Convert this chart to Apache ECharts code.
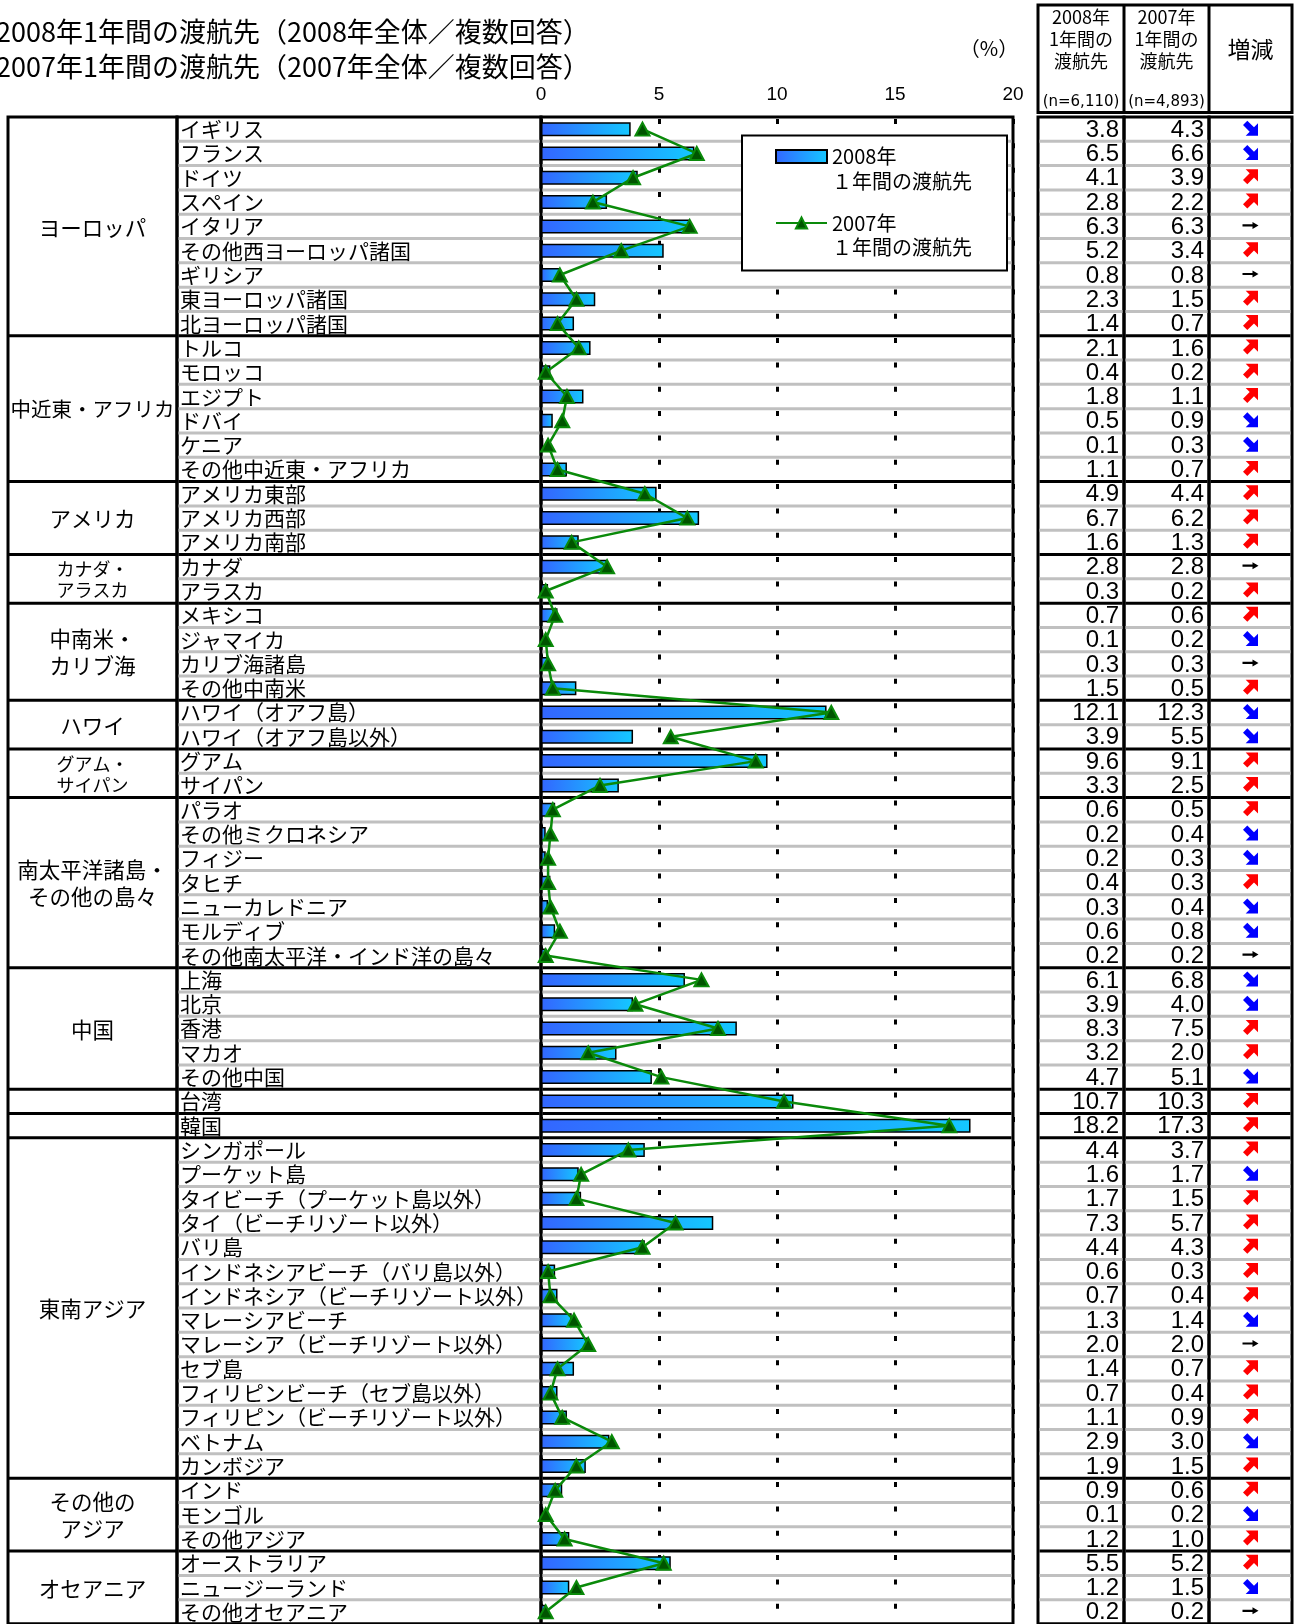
<!DOCTYPE html>
<html><head><meta charset="utf-8">
<script src="https://cdn.jsdelivr.net/npm/echarts@6/dist/echarts.min.js"></script>
<style>html,body{margin:0;padding:0;background:#fff}#c{width:1298px;height:1624px}</style>
</head><body><div id="c"></div>
<script>
const categories = ['イギリス','フランス','ドイツ','スペイン','イタリア','その他西ヨーロッパ諸国','ギリシア','東ヨーロッパ諸国','北ヨーロッパ諸国',
'トルコ','モロッコ','エジプト','ドバイ','ケニア','その他中近東・アフリカ',
'アメリカ東部','アメリカ西部','アメリカ南部',
'カナダ','アラスカ',
'メキシコ','ジャマイカ','カリブ海諸島','その他中南米',
'ハワイ（オアフ島）','ハワイ（オアフ島以外）',
'グアム','サイパン',
'パラオ','その他ミクロネシア','フィジー','タヒチ','ニューカレドニア','モルディブ','その他南太平洋・インド洋の島々',
'上海','北京','香港','マカオ','その他中国',
'台湾','韓国',
'シンガポール','プーケット島','タイビーチ（プーケット島以外）','タイ（ビーチリゾート以外）','バリ島','インドネシアビーチ（バリ島以外）','インドネシア（ビーチリゾート以外）','マレーシアビーチ','マレーシア（ビーチリゾート以外）','セブ島','フィリピンビーチ（セブ島以外）','フィリピン（ビーチリゾート以外）','ベトナム','カンボジア',
'インド','モンゴル','その他アジア',
'オーストラリア','ニュージーランド','その他オセアニア'];

const v2008 = [3.8,6.5,4.1,2.8,6.3,5.2,0.8,2.3,1.4,
2.1,0.4,1.8,0.5,0.1,1.1,
4.9,6.7,1.6,
2.8,0.3,
0.7,0.1,0.3,1.5,
12.1,3.9,
9.6,3.3,
0.6,0.2,0.2,0.4,0.3,0.6,0.2,
6.1,3.9,8.3,3.2,4.7,
10.7,18.2,
4.4,1.6,1.7,7.3,4.4,0.6,0.7,1.3,2.0,1.4,0.7,1.1,2.9,1.9,
0.9,0.1,1.2,
5.5,1.2,0.2];

const v2007 = [4.3,6.6,3.9,2.2,6.3,3.4,0.8,1.5,0.7,
1.6,0.2,1.1,0.9,0.3,0.7,
4.4,6.2,1.3,
2.8,0.2,
0.6,0.2,0.3,0.5,
12.3,5.5,
9.1,2.5,
0.5,0.4,0.3,0.3,0.4,0.8,0.2,
6.8,4.0,7.5,2.0,5.1,
10.3,17.3,
3.7,1.7,1.5,5.7,4.3,0.3,0.4,1.4,2.0,0.7,0.4,0.9,3.0,1.5,
0.6,0.2,1.0,
5.2,1.5,0.2];

const groupNames = ['ヨーロッパ','中近東・アフリカ','アメリカ','カナダ・\nアラスカ','中南米・\nカリブ海','ハワイ','グアム・\nサイパン','南太平洋諸島・\nその他の島々','中国','','','東南アジア','その他の\nアジア','オセアニア'];
const groupSizes = [9,6,3,2,4,2,2,7,5,1,1,14,3,3];
const smallGroups = ['カナダ・\nアラスカ','グアム・\nサイパン'];

const xTicks = {min:0, max:20, interval:5};
const seriesNames = ['2008年\n１年間の渡航先','2007年\n１年間の渡航先'];
const headerA = ['2008年','1年間の','渡航先','(n=6,110)'];
const headerB = ['2007年','1年間の','渡航先','(n=4,893)'];
const headerC = '増減';
const unitLabel = '（%）';
const titleText = '2008年1年間の渡航先（2008年全体／複数回答）\n2007年1年間の渡航先（2007年全体／複数回答）';

// derived
const groupStarts = [];
(function(){ let s=0; groupSizes.forEach(n=>{groupStarts.push(s); s+=n;}); })();
const groupEnds = new Set(groupStarts.map((s,i)=>s+groupSizes[i]-1));
const trend = v2008.map((v,i)=> v>v2007[i]?1:(v<v2007[i]?-1:0));

const JP = '"Noto Sans CJK JP", sans-serif';
const LAT = '"Liberation Sans", Arial, sans-serif';
const NUM = '"Liberation Sans Narrow", "Liberation Sans", Arial, sans-serif';
const TOP = 117, H = 1509;

const gridDefs = [
  {left:541, width:472},
  {left:177, width:364},
  {left:8, width:169},
  {left:1038, width:86},
  {left:1124, width:85},
  {left:1209, width:83}
];
const grid = gridDefs.map(g=>({left:g.left, width:g.width, top:TOP, height:H, show:true, borderColor:'#000', borderWidth:3, backgroundColor:'transparent'}));

const yAxis = grid.map((g,i)=>({type:'category', gridIndex:i, data:categories, inverse:true, show:false}));
yAxis[1] = {type:'category', gridIndex:1, data:categories, inverse:true, show:true,
  axisLine:{show:false}, axisTick:{show:false}, splitLine:{show:false},
  axisLabel:{show:true, inside:true, interval:0, margin:3, align:'left', color:'#000', fontSize:21, fontFamily:JP, padding:[2,0,0,0]}};

const xAxis = grid.map((g,i)=>({type:'value', gridIndex:i, min:0, max:20, show:false}));
xAxis[0] = {type:'value', gridIndex:0, position:'top', min:xTicks.min, max:xTicks.max, interval:xTicks.interval,
  axisLine:{show:false}, axisTick:{show:false},
  axisLabel:{show:true, margin:13, color:'#000', fontSize:19, lineHeight:19, fontFamily:LAT},
  splitLine:{show:true, lineStyle:{color:'#000', width:3, type:[5,19.34], dashOffset:-2}}};
xAxis[5] = {type:'value', gridIndex:5, min:-1, max:1, show:false};

function rowLines(gi, withGray){
  return {type:'custom', xAxisIndex:gi, yAxisIndex:gi, z:1, silent:true, clip:false,
    data: categories.map((c,i)=>[0,i]),
    renderItem(params, api){
      const i = params.dataIndex;
      const cs = params.coordSys;
      const bh = api.size([0,1])[1];
      const y = api.coord([0,i])[1] + bh/2;
      const isEnd = groupEnds.has(i);
      if(!isEnd && !withGray) return null;
      return {type:'line', shape:{x1:cs.x+1.5, y1:y, x2:cs.x+cs.width-1.5, y2:y},
        style:{stroke:isEnd?'#000':'#c0c0c0', lineWidth:3}};
    }};
}

const UP = 'M3,0L15,0L15,12L11.1,8.1L4.6,14.6L0.4,10.4L6.9,3.9Z';
const DOWN = 'M3,15L15,15L15,3L11.1,6.9L4.6,0.4L0.4,4.6L6.9,11.1Z';
const FLAT = 'M0,2.4L10,2.4L10,0L16,3.5L10,7L10,4.6L0,4.6Z';

function numSeries(gi, arr){
  return {type:'custom', xAxisIndex:gi, yAxisIndex:gi, z:3, silent:true, clip:false,
    data: arr.map((v,i)=>[v,i]),
    renderItem(params, api){
      const v = api.value(0);
      const cs = params.coordSys;
      const p = api.coord([0, params.dataIndex]);
      return {type:'text', style:{text:v.toFixed(1), x:cs.x+cs.width-5, y:p[1]+1, align:'right', verticalAlign:'middle',
        fontSize:24, fontFamily:NUM, fill:'#000'}};
    }};
}

const series = [
  rowLines(0,true), rowLines(1,true), rowLines(3,true), rowLines(4,true), rowLines(5,true),
  {type:'custom', xAxisIndex:2, yAxisIndex:2, z:3, silent:true, clip:false,
    data: groupStarts.map(s=>[0,s]),
    renderItem(params, api){
      const gi = params.dataIndex;
      const cs = params.coordSys;
      const bh = api.size([0,1])[1];
      const yTop = api.coord([0, groupStarts[gi]])[1] - bh/2;
      const yBot = api.coord([0, groupStarts[gi]+groupSizes[gi]-1])[1] + bh/2;
      const name = groupNames[gi];
      const small = smallGroups.indexOf(name) >= 0;
      const fs = small ? 18 : (name.length > 7 && name.indexOf('\n') < 0 ? 20.5 : 21.5);
      return {type:'group', children:[
        {type:'text', style:{text:name, x:cs.x+cs.width/2, y:(yTop+yBot)/2+1, align:'center', verticalAlign:'middle',
          fontSize:fs, lineHeight: small?21:27, fontFamily:JP, fill:'#000'}},
        {type:'line', shape:{x1:cs.x, y1:yBot, x2:cs.x+cs.width, y2:yBot}, style:{stroke:'#000', lineWidth:3}}
      ]};
    }},
  numSeries(3, v2008), numSeries(4, v2007),
  {type:'custom', xAxisIndex:5, yAxisIndex:5, z:3, silent:true, clip:false,
    data: trend.map((t,i)=>[t,i]),
    renderItem(params, api){
      const t = api.value(0);
      const cs = params.coordSys;
      const p = api.coord([0, params.dataIndex]);
      const cx = cs.x + cs.width/2;
      let d, w, h, c;
      if(t>0){d=UP; w=15; h=15; c='#ff0000';}
      else if(t<0){d=DOWN; w=15; h=15; c='#0000ff';}
      else {d=FLAT; w=16; h=7; c='#000';}
      return {type:'path', shape:{pathData:d, x:cx-w/2, y:p[1]-h/2-1, width:w, height:h, layout:'cover'}, style:{fill:c}};
    }},
  {type:'bar', name:seriesNames[0], xAxisIndex:0, yAxisIndex:0, z:4, data:v2008, barWidth:14,
    itemStyle:{color:{type:'linear', x:0, y:0, x2:1, y2:0, colorStops:[{offset:0,color:'#3366ff'},{offset:1,color:'#14c8ff'}]},
      borderColor:'#000', borderWidth:1.5}},
  {type:'line', name:seriesNames[1], xAxisIndex:0, yAxisIndex:0, z:5, data:v2007, clip:false,
    symbol:'triangle', symbolSize:[14,13],
    lineStyle:{color:'#0a8a0a', width:2.5},
    itemStyle:{color:'#005400', borderColor:'#0a8a0a', borderWidth:2}}
];

const L = 24.5;
const legendCommon = {orient:'vertical', padding:0, itemWidth:51, itemGap:0, z:20, selectedMode:false,
  formatter: n => ' \n' + n,
  textStyle:{fontSize:20, fontFamily:JP, lineHeight:L, color:'#000'}};

const hdrTexts = [];
[[headerA,1081],[headerB,1166.5]].forEach(([arr,cx])=>{
  [17.5,39.5,61.5].forEach((y,k)=>hdrTexts.push({type:'text', z:5, style:{text:arr[k], x:cx, y:y, align:'center', verticalAlign:'middle', fontSize:18, fontFamily:JP, fill:'#000'}}));
  hdrTexts.push({type:'text', z:5, style:{text:arr[3], x:cx, y:102, align:'center', verticalAlign:'middle', fontSize:15, fontFamily:'"DejaVu Sans", sans-serif', fill:'#000'}});
});

const option = {
  backgroundColor:'#fff',
  animation:false,
  title:{text:titleText, left:-4, top:14, padding:0, textStyle:{fontSize:27, fontWeight:'normal', fontFamily:JP, lineHeight:35, color:'#000'}},
  grid, xAxis, yAxis, series,
  legend:[
    Object.assign({}, legendCommon, {data:[{name:seriesNames[0], icon:'rect'}], left:775, top:156.5-1.5*L, itemHeight:13}),
    Object.assign({}, legendCommon, {data:[seriesNames[1]], left:775, top:223-1.5*L, itemHeight:14})
  ],
  graphic:[
    {type:'rect', z:10, shape:{x:742, y:135.5, width:265, height:135}, style:{fill:'#fff', stroke:'#000', lineWidth:2}},
    {type:'rect', z:5, shape:{x:1038, y:5, width:254, height:107.5}, style:{fill:'none', stroke:'#000', lineWidth:3}},
    {type:'line', z:5, shape:{x1:1124, y1:5, x2:1124, y2:112.5}, style:{stroke:'#000', lineWidth:3}},
    {type:'line', z:5, shape:{x1:1209, y1:5, x2:1209, y2:112.5}, style:{stroke:'#000', lineWidth:3}},
    {type:'text', z:5, style:{text:headerC, x:1250.5, y:49, align:'center', verticalAlign:'middle', fontSize:23, fontFamily:JP, fill:'#000'}},
    {type:'text', z:5, style:{text:unitLabel, x:989, y:48, align:'center', verticalAlign:'middle', fontSize:20, fontFamily:JP, fill:'#000'}}
  ].concat(hdrTexts)
};

const chart = echarts.init(document.getElementById('c'), null, {renderer:'canvas'});
chart.setOption(option);
</script></body></html>
